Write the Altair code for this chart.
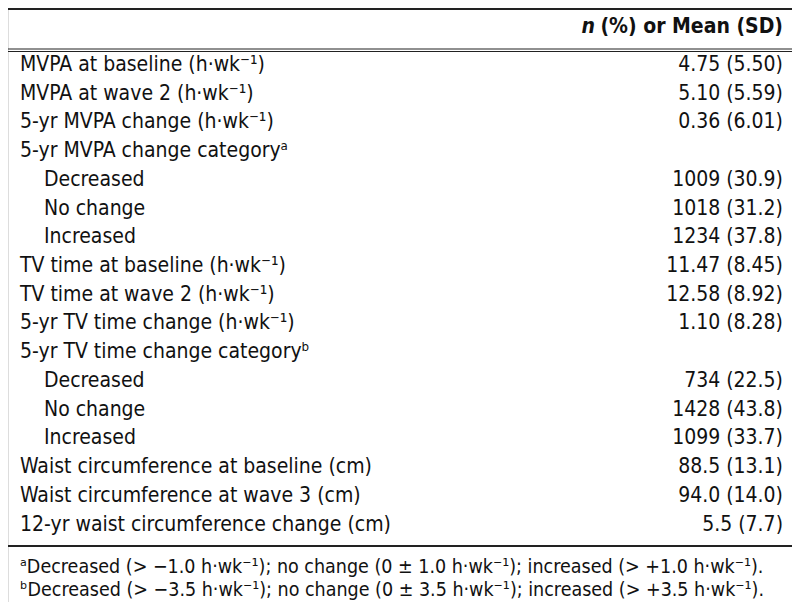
import altair as alt
import pandas as pd

# ---- table content ----
labels = [
    "MVPA at baseline (h·wk⁻¹)",
    "MVPA at wave 2 (h·wk⁻¹)",
    "5-yr MVPA change (h·wk⁻¹)",
    "5-yr MVPA change categoryᵃ",
    "Decreased",
    "No change",
    "Increased",
    "TV time at baseline (h·wk⁻¹)",
    "TV time at wave 2 (h·wk⁻¹)",
    "5-yr TV time change (h·wk⁻¹)",
    "5-yr TV time change categoryᵇ",
    "Decreased",
    "No change",
    "Increased",
    "Waist circumference at baseline (cm)",
    "Waist circumference at wave 3 (cm)",
    "12-yr waist circumference change (cm)",
]
values = [
    "4.75 (5.50)", "5.10 (5.59)", "0.36 (6.01)", "",
    "1009 (30.9)", "1018 (31.2)", "1234 (37.8)",
    "11.47 (8.45)", "12.58 (8.92)", "1.10 (8.28)", "",
    "734 (22.5)", "1428 (43.8)", "1099 (33.7)",
    "88.5 (13.1)", "94.0 (14.0)", "5.5 (7.7)",
]
indent = [0, 0, 0, 0, 1, 1, 1, 0, 0, 0, 0, 1, 1, 1, 0, 0, 0]
header_italic = "n"
header_rest = "(%) or Mean (SD)"
footnotes = [
    "ᵃDecreased (> −1.0 h·wk⁻¹); no change (0 ± 1.0 h·wk⁻¹); increased (> +1.0 h·wk⁻¹).",
    "ᵇDecreased (> −3.5 h·wk⁻¹); no change (0 ± 3.5 h·wk⁻¹); increased (> +3.5 h·wk⁻¹).",
]

# ---- layout (image pixel units) ----
W, H = 784, 594
ROW0, STEP = 65.0, 28.72
FONT = "DejaVu Sans Condensed, DejaVu Sans, sans-serif"
FS = 21
FS_FOOT = 19.5


def r_of(ypx):
    return (ypx - ROW0) / STEP


xs = alt.Scale(domain=[8, 8 + W], range=[0, W])
ys = alt.Scale(domain=[r_of(8), r_of(8 + H)], range=[0, H])

body = pd.DataFrame({
    "r": list(range(len(labels))),
    "label": labels,
    "value": values,
    "lx": [44 if i else 20 for i in indent],
    "vx": [783] * len(labels),
})

left = alt.Chart(body).mark_text(align="left", baseline="middle", font=FONT, fontSize=FS, color="#111").encode(
    x=alt.X("lx:Q", scale=xs, axis=None),
    y=alt.Y("r:Q", scale=ys, axis=None),
    text="label:N",
)
right = alt.Chart(body).mark_text(align="right", baseline="middle", font=FONT, fontSize=FS, color="#111").encode(
    x=alt.X("vx:Q", scale=xs, axis=None),
    y=alt.Y("r:Q", scale=ys, axis=None),
    text="value:N",
)

hdr = pd.DataFrame({"r": [r_of(27)] * 2, "x": [595, 783], "t": [header_italic, header_rest]})
hdr_n = alt.Chart(hdr.iloc[[0]]).mark_text(align="right", baseline="middle", font=FONT, fontSize=FS,
                                            fontWeight="bold", fontStyle="italic", color="#111").encode(
    x=alt.X("x:Q", scale=xs, axis=None), y=alt.Y("r:Q", scale=ys, axis=None), text="t:N")
hdr_rest = alt.Chart(hdr.iloc[[1]]).mark_text(align="right", baseline="middle", font=FONT, fontSize=FS,
                                               fontWeight="bold", color="#111").encode(
    x=alt.X("x:Q", scale=xs, axis=None), y=alt.Y("r:Q", scale=ys, axis=None), text="t:N")

fn = pd.DataFrame({"r": [r_of(567), r_of(590)], "x": [20, 20], "t": footnotes})
foot = alt.Chart(fn).mark_text(align="left", baseline="middle", font=FONT, fontSize=FS_FOOT, color="#111").encode(
    x=alt.X("x:Q", scale=xs, axis=None), y=alt.Y("r:Q", scale=ys, axis=None), text="t:N")

rules_df = pd.DataFrame({
    "r": [r_of(9), r_of(49), r_of(51.5), r_of(546)],
    "x0": [0, 0, 0, 0],
    "x1": [800, 800, 800, 800],
    "w": [2.0, 1.2, 1.2, 2.0],
})
rules = alt.Chart(rules_df).mark_rule(color="#222").encode(
    x=alt.X("x0:Q", scale=xs, axis=None),
    x2="x1:Q",
    y=alt.Y("r:Q", scale=ys, axis=None),
    strokeWidth=alt.StrokeWidth("w:Q", scale=None, legend=None),
)

chart = alt.layer(rules, left, right, hdr_n, hdr_rest, foot).properties(
    width=W, height=H, padding=0, autosize=alt.AutoSizeParams(type="none")
).configure_view(stroke=None).configure(background="white")

chart.save("out.html", embed_options={"renderer": "svg", "actions": False})
